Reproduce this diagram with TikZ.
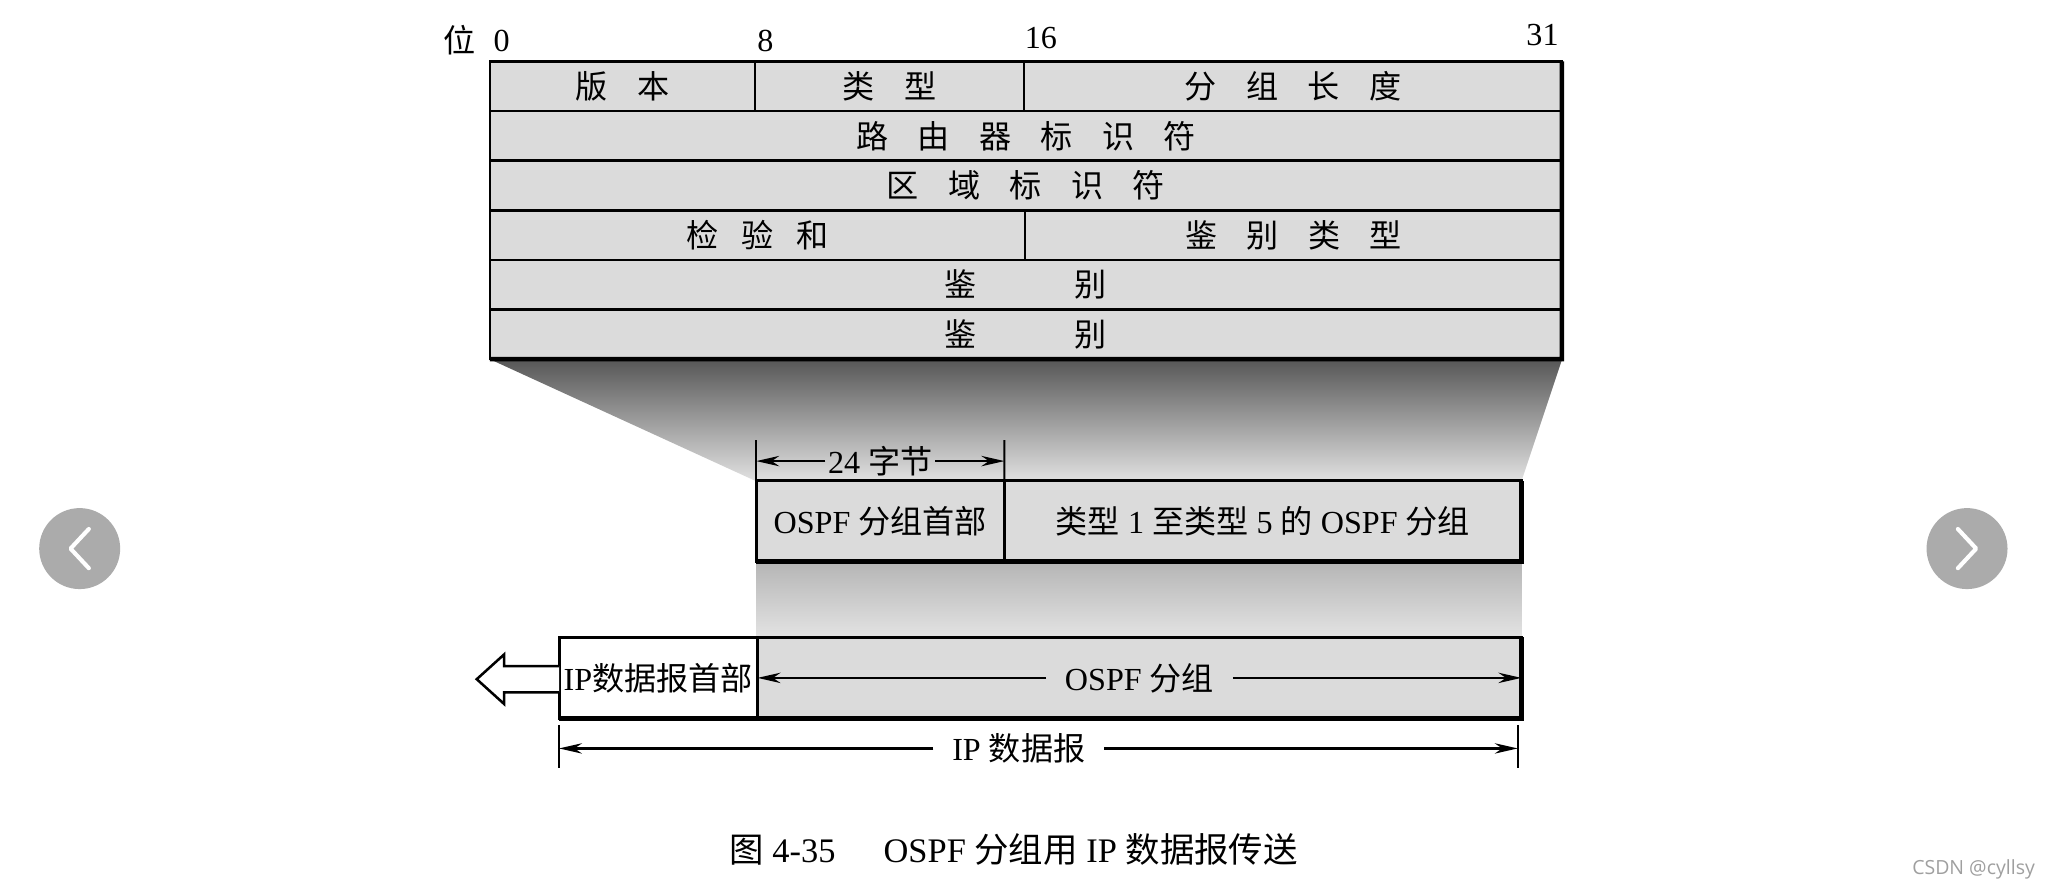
\documentclass[tikz,border=0pt]{standalone}
\usepackage{fontspec}
\setmainfont{Liberation Serif}
\newfontfamily\cjk{Noto Sans CJK SC}
\newfontfamily\wmfont{Open Sans}
\usetikzlibrary{arrows.meta,positioning}
\definecolor{boxgray}{gray}{0.86}
\definecolor{shadedark}{gray}{0.34}
\definecolor{shadelight}{gray}{0.88}
\definecolor{navgray}{HTML}{ABABAB}
\newcommand{\chgap}{\hspace{0.45cm}}

\begin{document}
\begin{tikzpicture}[x=0.02cm, y=-0.02cm,
  font=\fontsize{14pt}{16pt}\selectfont,
  field/.style={draw, line width=1.1pt, fill=boxgray, inner sep=0pt, outer sep=0pt,
    minimum height=0.76cm, font=\fontsize{14pt}{16pt}\selectfont\cjk},
  pkt/.style={draw, line width=1.3pt, fill=boxgray, inner sep=0pt, outer sep=0pt,
    minimum height=1.24cm},
  dimarrow/.style={-{Stealth[length=10pt,width=4.5pt]}, line width=1.1pt},
  dimtick/.style={line width=0.9pt}]

\useasboundingbox (0,0) rectangle (1568,681);

% --- Shading between the parts ---
\shade[top color=shadedark, bottom color=shadelight]
  (375,275) -- (1196,275) -- (1165,368) -- (578,368) -- cycle;
\shade[top color=gray!58, bottom color=gray!22] (579,430) rectangle (1165,488);

% --- Bit positions ---
\node (bitw) at (352,31) {\cjk 位};
\node (b0) at (384,31) {0};
\node (b8) at (586,31) {8};
\node (b16) at (797,29) {16};
\node (b31) at (1181,27) {31};

% --- OSPF header fields ---
\node[field, minimum width=4.06cm, anchor=north west] (ver) at (375,47) {版\chgap 本};
\node[field, minimum width=4.12cm, right=0pt of ver] (typ) {类\chgap 型};
\node[field, minimum width=8.24cm, right=0pt of typ] (plen) {分\chgap 组\chgap 长\chgap 度};
\node[field, minimum width=16.42cm, anchor=north west] (rid) at (ver.south west)
  {路\chgap 由\chgap 器\chgap 标\chgap 识\chgap 符};
\node[field, minimum width=16.42cm, anchor=north west] (aid) at (rid.south west)
  {区\chgap 域\chgap 标\chgap 识\chgap 符};
\node[field, minimum width=8.2cm, anchor=north west] (csum) at (aid.south west)
  {检\hspace{0.35cm}验\hspace{0.35cm}和};
\node[field, minimum width=8.22cm, right=0pt of csum] (atyp) {鉴\chgap 别\chgap 类\chgap 型};
\node[field, minimum width=16.42cm, anchor=north west] (auth1) at (csum.south west)
  {鉴\hspace{1.5cm}别};
\node[field, minimum width=16.42cm, anchor=north west] (auth2) at (auth1.south west)
  {鉴\hspace{1.5cm}别};
\draw[line width=2pt] (auth2.south west) -- (auth2.south east) -- (plen.north east);

% --- OSPF packet ---
\node[pkt, minimum width=3.8cm, anchor=north west] (hdr) at (579,368) {OSPF {\cjk 分组首部}};
\node[pkt, minimum width=7.92cm, right=0pt of hdr] (body) {{\cjk 类型} 1 {\cjk 至类型} 5 {\cjk 的} OSPF {\cjk 分组}};
\draw[line width=2.2pt] (hdr.south west) -- (body.south east) -- (body.north east);

% 24 bytes
\coordinate (t24l) at (579,337);
\coordinate (t24r) at (769,337);
\draw[dimtick] (t24l) -- (hdr.north west);
\draw[dimtick] (t24r) -- (hdr.north east);
\node[inner sep=1pt] (lab24) at (674,353) {24 {\cjk 字节}};
\draw[dimarrow] (lab24) -- (579,353);
\draw[dimarrow] (lab24) -- (769,353);

% --- IP datagram ---
\node[pkt, fill=white, minimum width=3.04cm, anchor=north west] (iphdr) at (428,488) {IP{\cjk 数据报首部}};
\node[pkt, minimum width=11.7cm, right=0pt of iphdr] (ipbody) {};
\draw[line width=2.2pt] (iphdr.south west) -- (ipbody.south east) -- (ipbody.north east);
\node[inner sep=8pt] (olab) at (ipbody.center) {OSPF {\cjk 分组}};
\draw[dimarrow] (olab) -- (ipbody.west);
\draw[dimarrow] (olab) -- (ipbody.east);

% hollow arrow out of the header
\draw[line width=1.1pt, fill=white] (428,510) -- (386,510) -- (386,501) -- (365,520)
  -- (386,539) -- (386,530) -- (428,530);

% IP datagram length
\coordinate (ipl) at (428,573);
\coordinate (ipr) at (1162,573);
\draw[dimtick] (428,555) -- (428,588);
\draw[dimtick] (1162,555) -- (1162,588);
\node[inner sep=8pt] (iplab) at (780,573) {IP {\cjk 数据报}};
\draw[dimarrow] (iplab) -- (ipl);
\draw[dimarrow] (iplab) -- (ipr);

% --- Caption ---
\node[font=\fontsize{15pt}{17pt}\selectfont] (cap) at (776,650)
  {{\cjk 图} 4-35\hspace{1.4em}OSPF {\cjk 分组用} IP {\cjk 数据报传送}};

% --- Viewer buttons and watermark ---
\fill[navgray] (61,420) circle (31);
\draw[white, line width=1.8pt, line cap=round, line join=round] (68,405) -- (54,420) -- (68,435);
\fill[navgray] (1506,420) circle (31);
\draw[white, line width=1.8pt, line cap=round, line join=round] (1499,405) -- (1513,420) -- (1499,435);
\node[font=\fontsize{8.5pt}{10pt}\selectfont\wmfont, text=gray!75] (wm) at (1511,666) {CSDN @cyllsy};

\end{tikzpicture}
\end{document}
